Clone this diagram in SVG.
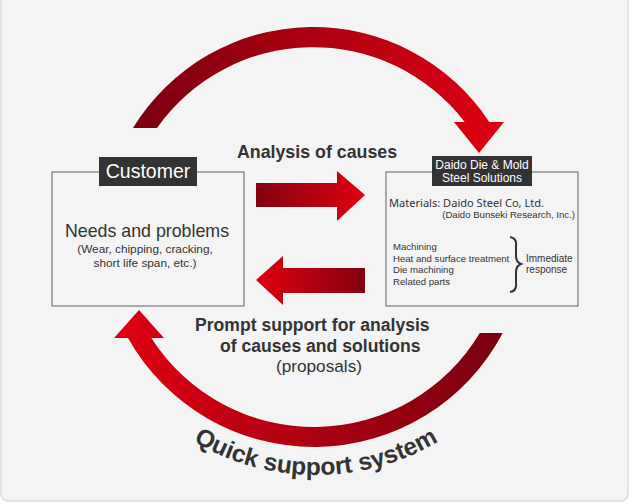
<svg xmlns="http://www.w3.org/2000/svg" width="630" height="504" viewBox="0 0 630 504">
  <defs>
    <linearGradient id="gTop" gradientUnits="userSpaceOnUse" x1="130" y1="0" x2="505" y2="0">
      <stop offset="0" stop-color="#7a000f"/>
      <stop offset="1" stop-color="#e00012"/>
    </linearGradient>
    <linearGradient id="gBot" gradientUnits="userSpaceOnUse" x1="114" y1="0" x2="503" y2="0">
      <stop offset="0" stop-color="#e00012"/>
      <stop offset="1" stop-color="#7a000f"/>
    </linearGradient>
    <linearGradient id="gRight" gradientUnits="userSpaceOnUse" x1="256" y1="0" x2="365" y2="0">
      <stop offset="0" stop-color="#850010"/>
      <stop offset="1" stop-color="#e00012"/>
    </linearGradient>
    <linearGradient id="gLeft" gradientUnits="userSpaceOnUse" x1="256" y1="0" x2="365" y2="0">
      <stop offset="0" stop-color="#e00012"/>
      <stop offset="1" stop-color="#850010"/>
    </linearGradient>
    <path id="qsPath" d="M 76,235 A 240 240 0 0 0 556,235"/>
  </defs>
  <style>
    .t { font-family: "Liberation Sans", Arial, sans-serif; fill: #333; }
    .b { font-weight: bold; }
    .w { fill: #fff; }
    .box { fill: none; stroke: #777; stroke-width: 1.2; }
    .lbl { fill: #333; }
    .m { font-family: "Noto Sans", "DejaVu Sans", sans-serif; fill: #333; }
  </style>
  <rect x="1" y="-6" width="627" height="507" rx="7" fill="#f4f4f4" stroke="#dcdcdc" stroke-width="1.5"/>

  <g id="connectors">
    <path id="arc-top" d="M 133,128 A 211 211 0 0 1 489.3,122 L 504,122 L 479,153 L 454,122 L 464.7,122 A 191 191 0 0 0 157,128 Z" fill="url(#gTop)"/>
    <path id="arc-bottom" d="M 502.7,333 A 213.2 213.2 0 0 1 128,338 L 114,338 L 139,310 L 164,338 L 151.3,338 A 193.2 193.2 0 0 0 479.8,333 Z" fill="url(#gBot)"/>
    <path id="arrow-right" d="M 256,183 L 337,183 L 337,171 L 365,195 L 337,221 L 337,207 L 256,207 Z" fill="url(#gRight)"/>
    <path id="arrow-left" d="M 365,268 L 283,268 L 283,256 L 256,280 L 283,305 L 283,293 L 365,293 Z" fill="url(#gLeft)"/>
  </g>

  <g id="label-analysis">
    <text class="t b" x="317" y="158" font-size="17.8" text-anchor="middle">Analysis of causes</text>
  </g>

  <g id="label-prompt">
    <text class="t b" x="195" y="331" font-size="17.6">Prompt support for analysis</text>
    <text class="t b" x="220" y="352" font-size="17.6">of causes and solutions</text>
    <text class="t" x="319" y="372" font-size="17.2" text-anchor="middle">(proposals)</text>
  </g>

  <g id="node-customer">
    <rect class="box" x="52" y="172" width="192" height="134"/>
    <rect class="lbl" x="99" y="157" width="98" height="29"/>
    <text class="t w" x="148" y="178" font-size="19.5" text-anchor="middle">Customer</text>
    <text class="t" x="147" y="237" font-size="17.8" text-anchor="middle">Needs and problems</text>
    <text class="t" x="145" y="253" font-size="11.8" text-anchor="middle">(Wear, chipping, cracking,</text>
    <text class="t" x="145" y="267" font-size="11.8" text-anchor="middle">short life span, etc.)</text>
  </g>

  <g id="node-daido">
    <rect class="box" x="386" y="172" width="192" height="134"/>
    <rect class="lbl" x="432" y="156" width="100" height="30"/>
    <text class="t w" x="482" y="169" font-size="12" text-anchor="middle">Daido Die &amp; Mold</text>
    <text class="t w" x="482" y="182" font-size="12" text-anchor="middle">Steel Solutions</text>
    <text class="m" x="389" y="207" font-size="11" textLength="155" lengthAdjust="spacingAndGlyphs">Materials: Daido Steel Co, Ltd.</text>
    <text class="t" x="575" y="218" font-size="9.6" text-anchor="end">(Daido Bunseki Research, Inc.)</text>
    <text class="t" x="393" y="250" font-size="9.6">Machining</text>
    <text class="t" x="393" y="262" font-size="9.6">Heat and surface treatment</text>
    <text class="t" x="393" y="273" font-size="9.6">Die machining</text>
    <text class="t" x="393" y="285" font-size="9.6">Related parts</text>
    <path d="M 510,237 Q 517,238 516,246 L 516,256 Q 516,262 521,264 Q 516,266 516,272 L 516,283 Q 517,291 510,292" fill="none" stroke="#333" stroke-width="2"/>
    <text class="t" x="526" y="262" font-size="10">Immediate</text>
    <text class="t" x="526" y="273" font-size="10">response</text>
  </g>

  <g id="label-quick">
    <text class="t b" font-size="24.5"><textPath href="#qsPath" startOffset="50%" text-anchor="middle">Quick support system</textPath></text>
  </g>
</svg>
